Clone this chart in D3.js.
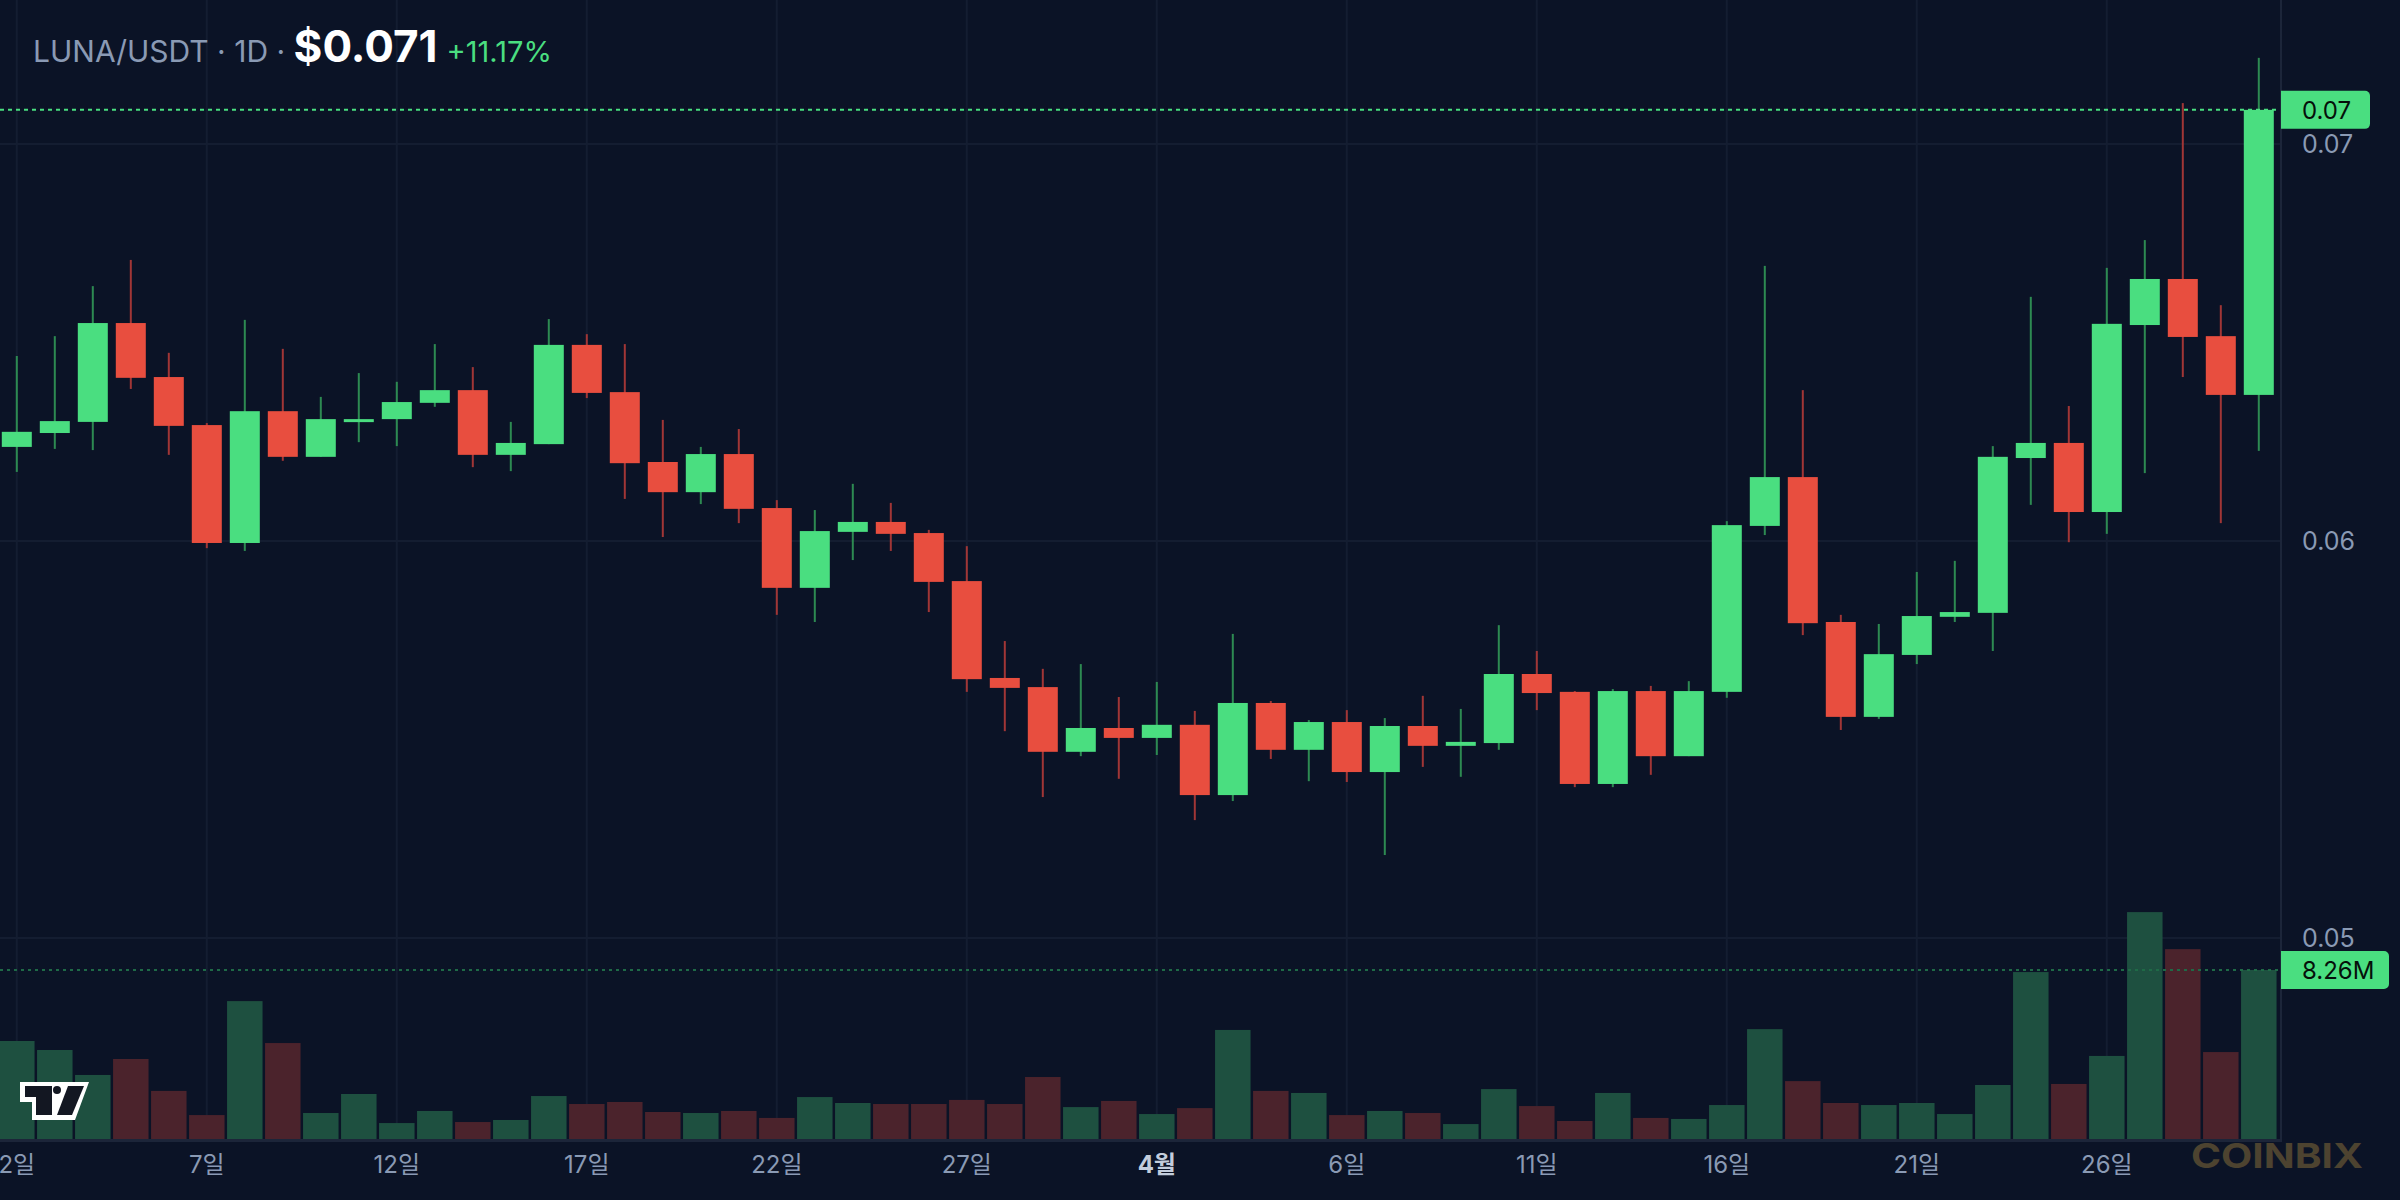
<!DOCTYPE html>
<html lang="ko">
<head>
  <meta charset="UTF-8">
  <title>LUNA/USDT 1D</title>
  <script src="https://cdn.jsdelivr.net/npm/d3@7"></script>
  <style>
    html, body { margin: 0; padding: 0; background: #0b1326; }
    svg { display: block; }
    text { font-family: Inter, "Noto Sans CJK KR", sans-serif; }
  </style>
</head>
<body>
<div id="chart"></div>

<script>
// daily candles, 2 Mar .. 30 Apr
const startDay = new Date(Date.UTC(2024, 2, 2));
const endDay = new Date(Date.UTC(2024, 4, 1));

const open = [0.06237,0.06272,0.06300,0.06549,0.06413,0.06292,0.05995,0.06327,0.06212,0.06305,
  0.06307,0.06348,0.06380,0.06217,0.06244,0.06494,0.06375,0.06199,0.06123,0.06219,
  0.06083,0.05882,0.06023,0.06048,0.06020,0.05899,0.05655,0.05632,0.05469,0.05529,
  0.05504,0.05537,0.05360,0.05592,0.05474,0.05544,0.05418,0.05534,0.05484,0.05491,
  0.05665,0.05620,0.05388,0.05622,0.05458,0.05620,0.06038,0.06161,0.05796,0.05557,
  0.05713,0.05809,0.05819,0.06209,0.06247,0.06073,0.06544,0.06660,0.06516,0.06368];
const high = [0.06466,0.06516,0.06642,0.06708,0.06474,0.06297,0.06557,0.06484,0.06363,0.06423,
  0.06401,0.06496,0.06438,0.06300,0.06559,0.06521,0.06496,0.06305,0.06237,0.06282,
  0.06103,0.06078,0.06144,0.06096,0.06028,0.05987,0.05748,0.05678,0.05690,0.05607,
  0.05645,0.05572,0.05766,0.05597,0.05549,0.05574,0.05554,0.05610,0.05577,0.05788,
  0.05723,0.05622,0.05627,0.05635,0.05647,0.06050,0.06693,0.06380,0.05814,0.05791,
  0.05922,0.05950,0.06239,0.06615,0.06340,0.06688,0.06758,0.07103,0.06594,0.07217];
const low = [0.06174,0.06232,0.06229,0.06383,0.06217,0.05982,0.05975,0.06202,0.06212,0.06249,
  0.06239,0.06338,0.06186,0.06176,0.06244,0.06360,0.06106,0.06010,0.06093,0.06045,
  0.05814,0.05796,0.05952,0.05975,0.05821,0.05620,0.05521,0.05355,0.05458,0.05401,
  0.05461,0.05297,0.05345,0.05451,0.05395,0.05393,0.05209,0.05431,0.05406,0.05474,
  0.05574,0.05380,0.05380,0.05411,0.05458,0.05605,0.06015,0.05763,0.05524,0.05552,
  0.05690,0.05796,0.05723,0.06091,0.05997,0.06018,0.06171,0.06413,0.06045,0.06227];
const close = [0.06275,0.06302,0.06549,0.06411,0.06290,0.05995,0.06327,0.06212,0.06307,0.06307,
  0.06350,0.06380,0.06217,0.06247,0.06494,0.06373,0.06196,0.06123,0.06219,0.06081,
  0.05882,0.06025,0.06048,0.06018,0.05897,0.05652,0.05630,0.05469,0.05529,0.05504,
  0.05537,0.05360,0.05592,0.05474,0.05544,0.05418,0.05534,0.05484,0.05494,0.05665,
  0.05617,0.05388,0.05622,0.05458,0.05622,0.06040,0.06161,0.05793,0.05557,0.05715,
  0.05811,0.05821,0.06212,0.06247,0.06073,0.06547,0.06660,0.06514,0.06368,0.07086];
// volume in millions
const volume = [4.79,4.35,3.13,3.91,2.35,1.17,6.74,4.69,1.27,2.20,
  0.78,1.37,0.83,0.93,2.10,1.71,1.81,1.32,1.27,1.37,
  1.03,2.05,1.76,1.71,1.71,1.91,1.71,3.03,1.56,1.86,
  1.22,1.51,5.33,2.35,2.25,1.17,1.37,1.27,0.73,2.44,
  1.61,0.88,2.25,1.03,0.98,1.66,5.37,2.83,1.76,1.66,
  1.76,1.22,2.64,8.16,2.69,4.06,11.09,9.28,4.25,8.26];

const tickDays = ["2024-03-02","2024-03-07","2024-03-12","2024-03-17","2024-03-22","2024-03-27",
  "2024-04-01","2024-04-06","2024-04-11","2024-04-16","2024-04-21","2024-04-26"];
const tickLabels = ["2일","7일","12일","17일","22일","27일","4월","6일","11일","16일","21일","26일"];
const priceTicks = [0.05, 0.06, 0.07];

const lastPrice = 0.07086;
const lastVolume = 8.26;

const W = 2400, H = 1200;
const plotRight = 2281, volBottom = 1139;

const days = d3.utcDay.range(startDay, endDay);
const fmtDay = d3.utcFormat("%Y-%m-%d");
const candles = days.map((d, i) => ({
  day: fmtDay(d), open: open[i], high: high[i], low: low[i], close: close[i], vol: volume[i]
}));

const x = d3.scaleBand().domain(candles.map(d => d.day)).range([-2.2, 2277.8]);
const step = x.step();
const cx = d => x(d) + step / 2;

const y = d3.scaleLinear().domain([0.05, 0.07]).range([938, 144]);
const yv = d3.scaleLinear().domain([0, 10]).range([volBottom, volBottom - 204.6]);

const up = d => d.close >= d.open;

const svg = d3.select("#chart").append("svg").attr("width", W).attr("height", H);
svg.append("rect").attr("width", W).attr("height", H).attr("fill", "#0b1326");

// grid
const grid = svg.append("g");
grid.selectAll("line.v").data(tickDays).join("line")
  .attr("x1", d => cx(d)).attr("x2", d => cx(d))
  .attr("y1", 0).attr("y2", 1140)
  .attr("stroke", "#141d31").attr("stroke-width", 2);
grid.selectAll("line.h").data(priceTicks).join("line")
  .attr("x1", 0).attr("x2", plotRight)
  .attr("y1", d => y(d)).attr("y2", d => y(d))
  .attr("stroke", "#141d31").attr("stroke-width", 2);

// volume
svg.append("g").selectAll("rect").data(candles).join("rect")
  .attr("x", d => cx(d.day) - 17.75)
  .attr("width", 35.5)
  .attr("y", d => yv(d.vol))
  .attr("height", d => volBottom - yv(d.vol))
  .attr("fill", d => up(d) ? "#1e5040" : "#4b232c");

// volume dotted line
svg.append("line")
  .attr("x1", 0).attr("x2", plotRight)
  .attr("y1", yv(lastVolume)).attr("y2", yv(lastVolume))
  .attr("stroke", "#1f6a47").attr("stroke-width", 2).attr("stroke-dasharray", "3 4");

// wicks
svg.append("g").selectAll("rect").data(candles).join("rect")
  .attr("x", d => cx(d.day) - 1)
  .attr("width", 2)
  .attr("y", d => y(d.high))
  .attr("height", d => y(d.low) - y(d.high))
  .attr("fill", d => up(d) ? "#2d8a52" : "#a13636");

// bodies
svg.append("g").selectAll("rect").data(candles).join("rect")
  .attr("x", d => cx(d.day) - 15)
  .attr("width", 30)
  .attr("y", d => y(Math.max(d.open, d.close)))
  .attr("height", d => Math.max(3, Math.abs(y(d.open) - y(d.close))))
  .attr("fill", d => up(d) ? "#4ade80" : "#e84e3f");

// last price dotted line
svg.append("line")
  .attr("x1", 0).attr("x2", plotRight)
  .attr("y1", y(lastPrice)).attr("y2", y(lastPrice))
  .attr("stroke", "#4ade80").attr("stroke-width", 2).attr("stroke-dasharray", "4 4");

// frame lines
svg.append("rect").attr("x", plotRight - 1).attr("y", 0).attr("width", 2).attr("height", 1142).attr("fill", "#1c2539");
svg.append("rect").attr("x", 0).attr("y", 1139).attr("width", plotRight).attr("height", 3).attr("fill", "#1c2539");

// price axis
const yAxis = svg.append("g")
  .attr("transform", `translate(${plotRight},0)`)
  .call(d3.axisRight(y).tickValues(priceTicks).tickFormat(d3.format(".2f")).tickSize(0).tickPadding(21));
yAxis.select(".domain").remove();
yAxis.selectAll("text")
  .attr("fill", "#8a9ab4").attr("font-size", 25)
  .style("font-family", "Inter, sans-serif");

// time axis
const xAxis = svg.append("g")
  .attr("transform", "translate(0,1142)")
  .call(d3.axisBottom(x).tickValues(tickDays)
    .tickFormat((d, i) => tickLabels[i]).tickSize(0).tickPadding(14));
xAxis.select(".domain").remove();
xAxis.selectAll("text")
  .attr("font-size", 24)
  .style("font-family", "Inter, 'Noto Sans CJK KR', sans-serif")
  .attr("font-weight", (d, i) => tickLabels[i].endsWith("월") ? 700 : 400)
  .attr("fill", (d, i) => tickLabels[i].endsWith("월") ? "#c3cddc" : "#8a9ab4");

// last value tags
function tag(yPos, label, w) {
  const g = svg.append("g");
  g.append("path")
    .attr("d", `M${plotRight},${yPos - 19}h${w - 5}a5,5 0 0 1 5,5v28a5,5 0 0 1 -5,5h${-(w - 5)}z`)
    .attr("fill", "#4ade80");
  g.append("text").attr("x", plotRight + 21).attr("y", yPos + 9)
    .attr("font-size", 24).attr("fill", "#05100a").text(label);
}
tag(y(lastPrice), d3.format(".2f")(lastPrice), 89);
tag(yv(lastVolume), lastVolume + "M", 108);

// header
const head = svg.append("text").attr("x", 33).attr("y", 62);
head.append("tspan").attr("fill", "#8a9ab4").attr("font-size", 30).text("LUNA/USDT · 1D · ");
head.append("tspan").attr("fill", "#ffffff").attr("font-size", 44).attr("font-weight", 700).text("$0.071");
head.append("tspan").attr("fill", "#4ade80").attr("font-size", 29).attr("dx", 9).text("+11.17%");

// tradingview mark
const tv = svg.append("g");
tv.append("path").attr("d", "M20,1082H89L75,1120H32V1102H20Z").attr("fill", "#ffffff");
tv.append("path").attr("d", "M25,1086H52V1115H36V1097H25Z").attr("fill", "#131722");
tv.append("circle").attr("cx", 57).attr("cy", 1090).attr("r", 4).attr("fill", "#131722");
tv.append("path").attr("d", "M68,1086H84L72,1115H57Z").attr("fill", "#131722");

// watermark
svg.append("text")
  .attr("x", 2191).attr("y", 1168)
  .attr("font-size", 34).attr("font-weight", 700)
  .attr("textLength", 172).attr("lengthAdjust", "spacingAndGlyphs")
  .attr("fill", "#4d4330")
  .text("COINBIX");
</script>
</body>
</html>
